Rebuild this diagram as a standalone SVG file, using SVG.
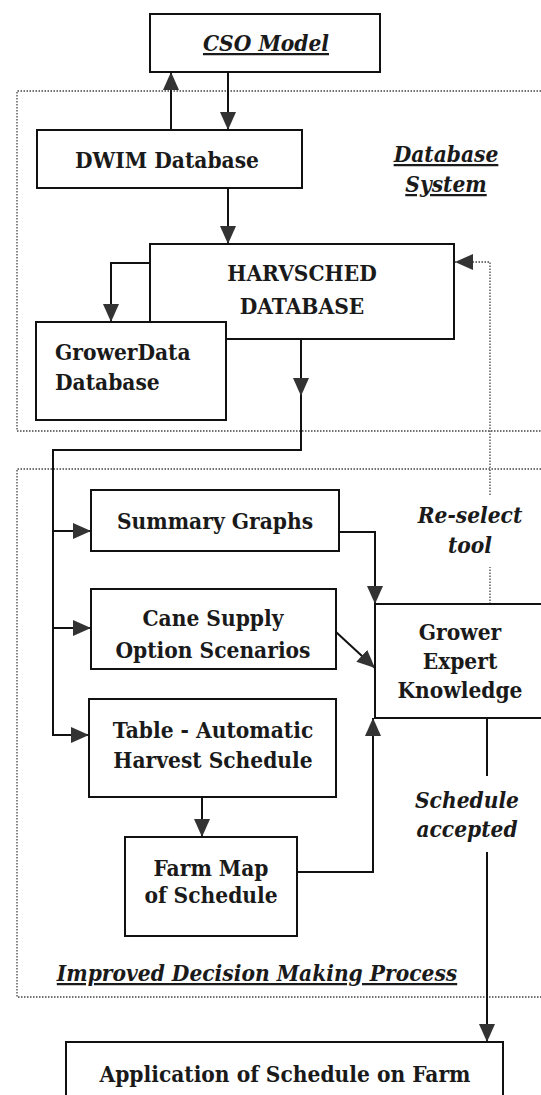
<svg xmlns="http://www.w3.org/2000/svg" width="541" height="1095" viewBox="0 0 541 1095">
<style>
.box{fill:#fff;stroke:#111;stroke-width:2}
.t{font-family:'DejaVu Serif Condensed','DejaVu Serif',serif;font-stretch:condensed;font-size:22.5px;font-weight:bold;fill:#1a1a1a;text-anchor:middle}
.i{font-style:italic}
.u{text-decoration:underline}
.c{fill:none;stroke:#111;stroke-width:2}
.d{fill:none;stroke:#444;stroke-width:1.3;stroke-dasharray:1.5 1.5}
</style>
<defs>
<marker id="ah" viewBox="0 0 18 16" refX="18" refY="8" markerWidth="18" markerHeight="16" markerUnits="userSpaceOnUse" orient="auto">
<path d="M0,0 L18,8 L0,16 Z" fill="#333"/>
</marker>
</defs>
<g id="regions">
<path class="d" d="M541,91 H17 V431 H541"/>
<path class="d" d="M541,469 H17 V997 H541"/>
</g>
<g id="connectors">
<path class="c" d="M171,130 V72" marker-end="url(#ah)"/>
<path class="c" d="M228,72 V130" marker-end="url(#ah)"/>
<path class="c" d="M228,188 V244" marker-end="url(#ah)"/>
<path class="c" d="M150,263 H111 V322" marker-end="url(#ah)"/>
<path class="c" d="M301,339 V396" marker-end="url(#ah)"/>
<path class="c" d="M301,396 V450 H53 V735 H89" marker-end="url(#ah)"/>
<path class="c" d="M53,531 H91" marker-end="url(#ah)"/>
<path class="c" d="M53,628 H91" marker-end="url(#ah)"/>
<path class="c" d="M339,532 H375 V604" marker-end="url(#ah)"/>
<path class="c" d="M336,632 L375,668" marker-end="url(#ah)"/>
<path class="c" d="M202,797 V837" marker-end="url(#ah)"/>
<path class="c" d="M297,872 H373 V718" marker-end="url(#ah)"/>
<path class="c" d="M487,718 V776"/>
<path class="c" d="M487,852 V1042" marker-end="url(#ah)"/>
<path class="d" d="M490,604 V567"/>
<path class="d" d="M490,495 V262 H455" marker-end="url(#ah)"/>
</g>
<g id="cso">
<rect class="box" x="150" y="14" width="230" height="58"/>
<text class="t i u" x="266" y="51">CSO Model</text>
</g>
<g id="dwim">
<rect class="box" x="37" y="130" width="265" height="58"/>
<text class="t" x="167" y="168">DWIM Database</text>
</g>
<g id="dbsystem-label">
<text class="t i u" x="446" y="162">Database</text>
<text class="t i u" x="446" y="192">System</text>
</g>
<g id="harvsched">
<rect class="box" x="150" y="244" width="304" height="95"/>
<text class="t" x="302" y="281">HARVSCHED</text>
<text class="t" x="302" y="314">DATABASE</text>
</g>
<g id="growerdata">
<rect class="box" x="36" y="322" width="190" height="98"/>
<text class="t" x="55" y="360" style="text-anchor:start">GrowerData</text>
<text class="t" x="55" y="390" style="text-anchor:start">Database</text>
</g>
<g id="summary">
<rect class="box" x="91" y="490" width="248" height="61"/>
<text class="t" x="215" y="529">Summary Graphs</text>
</g>
<g id="reselect-label">
<text class="t i" x="470" y="523">Re-select</text>
<text class="t i" x="470" y="553">tool</text>
</g>
<g id="cane">
<rect class="box" x="91" y="589" width="245" height="80"/>
<text class="t" x="213" y="626">Cane Supply</text>
<text class="t" x="213" y="658">Option Scenarios</text>
</g>
<g id="grower">
<rect class="box" x="375" y="604" width="190" height="114"/>
<text class="t" x="460" y="640">Grower</text>
<text class="t" x="460" y="669">Expert</text>
<text class="t" x="460" y="698">Knowledge</text>
</g>
<g id="table">
<rect class="box" x="89" y="699" width="247" height="98"/>
<text class="t" x="213" y="738">Table - Automatic</text>
<text class="t" x="213" y="768">Harvest Schedule</text>
</g>
<g id="farmmap">
<rect class="box" x="125" y="837" width="172" height="99"/>
<text class="t" x="211" y="876">Farm Map</text>
<text class="t" x="211" y="903">of Schedule</text>
</g>
<g id="accepted-label">
<text class="t i" x="467" y="808">Schedule</text>
<text class="t i" x="467" y="837">accepted</text>
</g>
<g id="improved-label">
<text class="t i u" x="257" y="981">Improved Decision Making Process</text>
</g>
<g id="application">
<rect class="box" x="66" y="1042" width="437" height="70"/>
<text class="t" x="285" y="1082">Application of Schedule on Farm</text>
</g>
</svg>
